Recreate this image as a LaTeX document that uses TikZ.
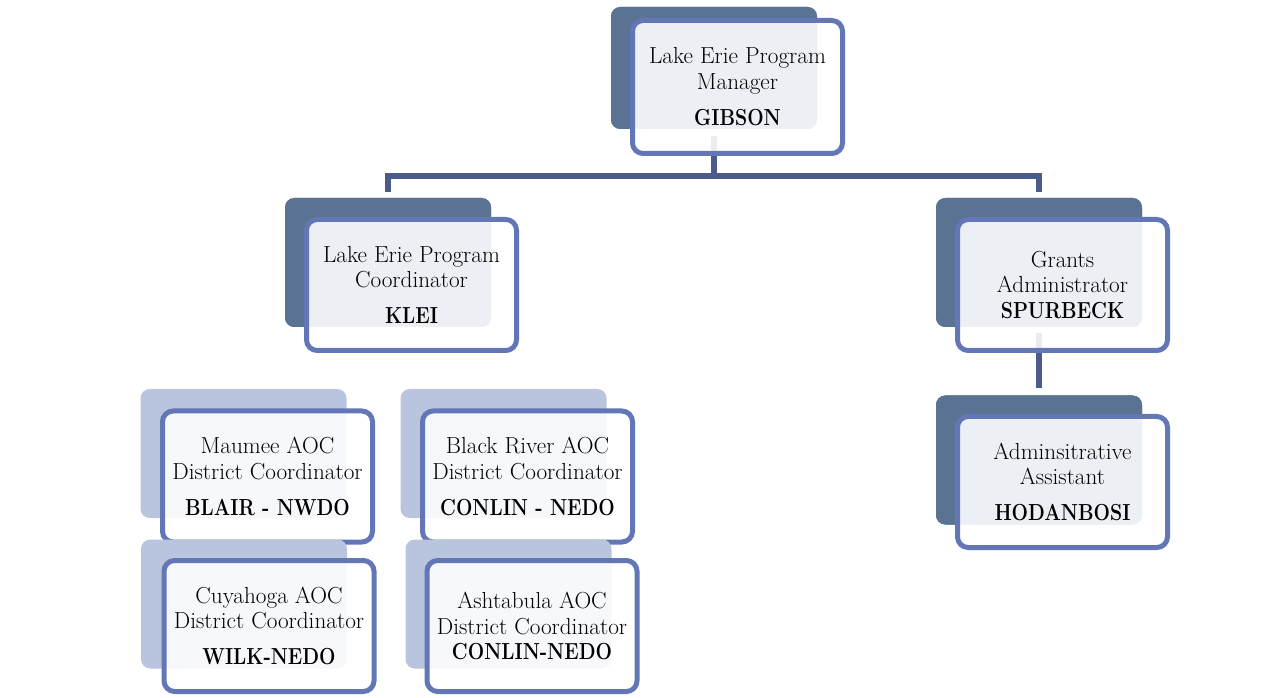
\documentclass[tikz,border=0pt]{standalone}
\usetikzlibrary{positioning,calc}
\definecolor{darkback}{HTML}{5A7393}
\definecolor{lightback}{HTML}{B9C4DF}
\definecolor{frameblue}{HTML}{6377B6}
\definecolor{connblue}{HTML}{4A5B8C}
\newcommand{\nmtext}[1]{\scalebox{0.84}[1]{\bfseries #1}}
\tikzset{
  backdark/.style={rectangle, rounded corners=7pt, fill=darkback, inner sep=0pt, outer sep=0pt,
    minimum width=154.5pt, minimum height=96.75pt},
  backlight/.style={backdark, fill=lightback},
  frontbox/.style={rectangle, rounded corners=8pt, draw=frameblue, line width=3.75pt,
    fill=white, fill opacity=0.89, text opacity=1, inner sep=0pt, outer sep=0pt,
    minimum width=157.5pt, minimum height=98.25pt, align=center,
    font=\fontsize{17.4}{19.2}\selectfont},
  conn/.style={draw=connblue, line width=4.5pt}
}
\begin{document}
\begin{tikzpicture}[x=0.75pt,y=-0.75pt]
\useasboundingbox (0,0) rectangle (1282,698);

% back shapes positions (needed for connectors)
\node[backdark, minimum height=91.5pt] (gibsonB) at (714,68) {};
\node[backdark] (kleiB) at (388,262.5) {};
\node[backdark] (spurB) at (1039,262.5) {};
\node[backdark] (hodB) at (1039,460) {};

% connectors
\draw[conn] ([yshift=-5.25pt]gibsonB.south) -- ++(0,40) -| ([yshift=4.5pt]kleiB.north);
\draw[conn] ([yshift=-5.25pt]gibsonB.south) -- ++(0,40) -| ([yshift=4.5pt]spurB.north);
\draw[conn] ([yshift=-4.5pt]spurB.south) -- ([yshift=5.25pt]hodB.north);

% redraw back shapes above connectors
\node[backdark, minimum height=91.5pt] at (gibsonB) {};
\node[frontbox, minimum height=99.75pt] (gibson) at (737.5,87)
  {Lake Erie Program\\Manager\\[8pt]\nmtext{GIBSON}};

\node[backdark] at (kleiB) {};
\node[frontbox] (klei) at (411.5,285)
  {Lake Erie Program\\Coordinator\\[8pt]\nmtext{KLEI}};

\node[backdark] at (spurB) {};
\node[frontbox] (spur) at (1062.5,285)
  {Grants\\Administrator\\\nmtext{SPURBECK}};

\node[backdark] at (hodB) {};
\node[frontbox] (hod) at (1062.5,482)
  {Adminsitrative\\Assistant\\[8pt]\nmtext{HODANBOSI}};

\node[backlight] (maumeeB) at (243.5,453.5) {};
\node[frontbox] (maumee) at (267.5,476.5)
  {Maumee AOC\\District Coordinator\\[8pt]\nmtext{BLAIR - NWDO}};

\node[backlight] (cuyB) at (244,604) {};
\node[frontbox] (cuy) at (269,626)
  {Cuyahoga AOC\\District Coordinator\\[8pt]\nmtext{WILK-NEDO}};

\node[backlight] (blackB) at (503.5,453.5) {};
\node[frontbox] (black) at (527.5,476.5)
  {Black River AOC\\District Coordinator\\[8pt]\nmtext{CONLIN - NEDO}};

\node[backlight] (ashB) at (508.5,604) {};
\node[frontbox] (ash) at (532,626)
  {Ashtabula AOC\\District Coordinator\\\nmtext{CONLIN-NEDO}};
\end{tikzpicture}
\end{document}
